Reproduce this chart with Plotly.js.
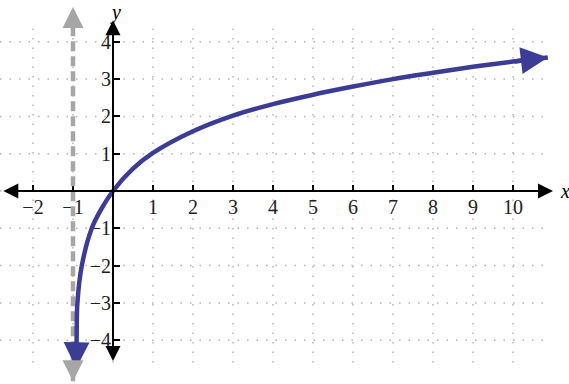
<!DOCTYPE html>
<html>
<head>
<meta charset="utf-8">
<script src="https://cdn.plot.ly/plotly-3.0.1.min.js"></script>
<style>html,body{margin:0;padding:0;background:#fff;}#chart{width:569px;height:384px;}</style>
</head>
<body>
<div id="chart"></div>
<script>
// Curve y = log2(x + 1)
var curveX = [-0.92, -0.91, -0.89, -0.78, -0.53, -0.3, 0, 0.5, 1, 2, 3, 4, 5, 6, 7, 8, 9, 10, 10.87];
var curveY = [-4.75, -4.0, -3.0, -2.0, -1.0, -0.5, 0, 0.6, 1.02, 1.6, 2.02, 2.33, 2.58, 2.8, 3.0, 3.17, 3.33, 3.47, 3.58];
// Vertical asymptote x = -1
var asymX = [-1, -1];
var asymY = [-5.1, 4.93];
// Tick values and labels
var xTicks = [-2, -1, 1, 2, 3, 4, 5, 6, 7, 8, 9, 10];
var yTicks = [-4, -3, -2, -1, 1, 2, 3, 4];
var xGrid = [-2, -1, 0, 1, 2, 3, 4, 5, 6, 7, 8, 9, 10];
var yGrid = [-4, -3, -2, -1, 0, 1, 2, 3, 4];

var xRange = [-2.825, 11.4];
var yRange = [-5.174, 5.121];
var axisXEnds = [-2.78, 11.0];
var axisYEnds = [-4.6, 4.58];
var gridXEnds = [-2.825, 10.75];
var gridYEnds = [-4.6, 4.35];

var curveColor = '#3c3c96';
var asymColor = '#a6a6a6';
var serif = 'Liberation Serif';

var shapes = [];
xGrid.forEach(function (v) {
  shapes.push({type: 'line', layer: 'below', xref: 'x', yref: 'y', x0: v, x1: v, y0: gridYEnds[0], y1: gridYEnds[1],
    line: {color: '#b5b5b5', width: 1.5, dash: '1.5px,8px'}});
});
yGrid.forEach(function (v) {
  shapes.push({type: 'line', layer: 'below', xref: 'x', yref: 'y', x0: gridXEnds[0], x1: gridXEnds[1], y0: v, y1: v,
    line: {color: '#b5b5b5', width: 1.5, dash: '1.5px,8px'}});
});

var n = curveX.length;
var annotations = [
  {x: axisXEnds[1], y: 0, ax: axisXEnds[0], ay: 0, xref: 'x', yref: 'y', axref: 'x', ayref: 'y', text: '',
   showarrow: true, arrowside: 'end+start', arrowhead: 2, startarrowhead: 2, arrowwidth: 2, arrowsize: 1.5, startarrowsize: 1.5, arrowcolor: '#000'},
  {x: 0, y: axisYEnds[1], ax: 0, ay: axisYEnds[0], xref: 'x', yref: 'y', axref: 'x', ayref: 'y', text: '',
   showarrow: true, arrowside: 'end+start', arrowhead: 2, startarrowhead: 2, arrowwidth: 2, arrowsize: 1.5, startarrowsize: 1.5, arrowcolor: '#000'},
  {x: curveX[n - 1], y: curveY[n - 1], ax: curveX[n - 2], ay: curveY[n - 2], xref: 'x', yref: 'y', axref: 'x', ayref: 'y', text: '',
   showarrow: true, arrowhead: 2, arrowwidth: 4.5, arrowsize: 1.2, arrowcolor: curveColor},
  {x: curveX[0], y: curveY[0], ax: curveX[1], ay: curveY[1], xref: 'x', yref: 'y', axref: 'x', ayref: 'y', text: '',
   showarrow: true, arrowhead: 2, arrowwidth: 4.5, arrowsize: 1.15, arrowcolor: curveColor},
  {x: asymX[1], y: asymY[1], ax: asymX[1], ay: asymY[1] - 0.5, xref: 'x', yref: 'y', axref: 'x', ayref: 'y', text: '',
   showarrow: true, arrowhead: 2, arrowwidth: 4, arrowsize: 1.05, arrowcolor: asymColor},
  {x: asymX[0], y: asymY[0], ax: asymX[0], ay: asymY[0] + 0.5, xref: 'x', yref: 'y', axref: 'x', ayref: 'y', text: '',
   showarrow: true, arrowhead: 2, arrowwidth: 4, arrowsize: 1.05, arrowcolor: asymColor},
  {x: 11.3, y: 0, xref: 'x', yref: 'y', text: '<i>x</i>', showarrow: false, font: {family: serif, size: 20, color: '#000'}},
  {x: 0.06, y: 4.78, xref: 'x', yref: 'y', text: '<i>y</i>', showarrow: false, font: {family: serif, size: 20, color: '#000'}}
];

var traces = [
  {x: asymX, y: asymY, type: 'scatter', mode: 'lines', hoverinfo: 'skip',
   line: {color: asymColor, width: 4.5, dash: '10px,5px'}},
  {x: curveX, y: curveY, type: 'scatter', mode: 'lines', hoverinfo: 'skip',
   line: {color: curveColor, width: 4.5, shape: 'spline', smoothing: 1}}
];

function fmt(v) { return v < 0 ? '\u2212' + Math.abs(v) : String(v); }

var layout = {
  width: 569, height: 384,
  margin: {l: 0, r: 0, t: 0, b: 0, pad: 0},
  paper_bgcolor: '#fff', plot_bgcolor: '#fff',
  font: {family: serif, size: 20, color: '#000'},
  showlegend: false,
  xaxis: {
    range: xRange, anchor: 'free', position: (0 - yRange[0]) / (yRange[1] - yRange[0]),
    showgrid: false, zeroline: false, showline: false, layer: 'below traces',
    tickmode: 'array', tickvals: xTicks, ticktext: xTicks.map(fmt),
    ticks: 'inside', ticklen: 6, tickwidth: 2, tickcolor: '#000', ticklabelstandoff: 2,
    tickfont: {family: serif, size: 20, color: '#222'}
  },
  yaxis: {
    range: yRange, anchor: 'free', position: (0 - xRange[0]) / (xRange[1] - xRange[0]),
    showgrid: false, zeroline: false, showline: false, layer: 'below traces',
    tickmode: 'array', tickvals: yTicks, ticktext: yTicks.map(fmt),
    ticks: 'inside', ticklen: 6, tickwidth: 2, tickcolor: '#000', ticklabelstandoff: 2,
    tickfont: {family: serif, size: 20, color: '#222'}
  },
  shapes: shapes,
  annotations: annotations
};

Plotly.newPlot('chart', traces, layout, {displayModeBar: false, staticPlot: true});
</script>
</body>
</html>
